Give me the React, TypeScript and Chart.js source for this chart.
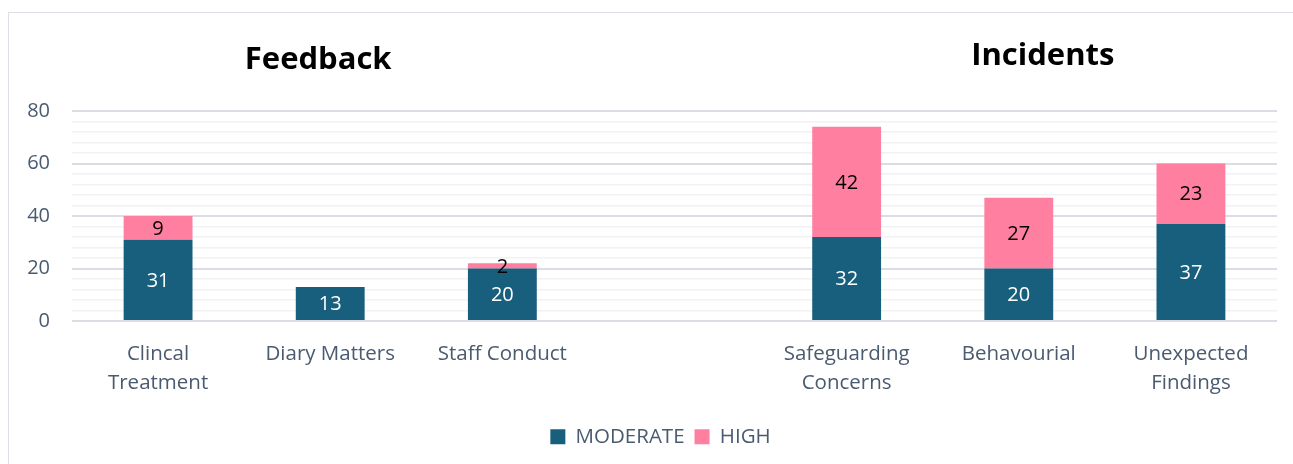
import React, { useEffect, useRef } from "react";
import { Chart, registerables } from "chart.js";

Chart.register(...registerables);

const categories: (string | string[])[] = [
  ["Clincal", "Treatment"],
  "Diary Matters",
  "Staff Conduct",
  "",
  ["Safeguarding", "Concerns"],
  "Behavourial",
  ["Unexpected", "Findings"],
];
const moderate: (number | null)[] = [31, 13, 20, null, 32, 20, 37];
const high: (number | null)[] = [9, null, 2, null, 42, 27, 23];
const sectionTitles = ["Feedback", "Incidents"];
const yTicks = [0, 20, 40, 60, 80];

const FONT = "'Open Sans', 'Noto Sans', sans-serif";
const TICK_COLOR = "#4A5A70";

const overlayPlugin = {
  id: "overlay",
  afterLayout(chart: any) {
    const lg = chart.legend;
    if (lg) {
      lg.left += 18;
      lg.right += 18;
    }
  },
  afterDatasetsDraw(chart: any) {
    const ctx = chart.ctx;
    ctx.save();
    ctx.textAlign = "center";
    ctx.textBaseline = "middle";
    ctx.font = `20px ${FONT}`;
    chart.data.datasets.forEach((ds: any, di: number) => {
      const meta = chart.getDatasetMeta(di);
      meta.data.forEach((bar: any, i: number) => {
        const v = ds.data[i];
        if (v == null) return;
        const p = bar.getProps(["x", "y", "base"], true);
        ctx.fillStyle = di === 0 ? "#FFFFFF" : "#000000";
        ctx.fillText(String(v), p.x, (p.y + p.base) / 2 + 1);
      });
    });
    // section titles
    const xs = chart.scales.x;
    ctx.fillStyle = "#000000";
    ctx.font = `bold 31px ${FONT}`;
    ctx.fillText(sectionTitles[0], xs.getPixelForValue(1) - 12, 60);
    ctx.fillText(sectionTitles[1], xs.getPixelForValue(5) + 24, 56);
    ctx.restore();
  },
};

export default function App() {
  const ref = useRef<HTMLCanvasElement>(null);
  useEffect(() => {
    if (!ref.current) return;
    const chart = new Chart(ref.current, {
      type: "bar",
      data: {
        labels: categories,
        datasets: [
          {
            label: "MODERATE",
            data: moderate,
            backgroundColor: "#175F7D",
            categoryPercentage: 1,
            barPercentage: 0.4,
          },
          {
            label: "HIGH",
            data: high,
            backgroundColor: "#FF7FA0",
            categoryPercentage: 1,
            barPercentage: 0.4,
          },
        ],
      },
      options: {
        animation: false,
        responsive: false,
        maintainAspectRatio: false,
        layout: { padding: { top: 111, left: 8, right: 16, bottom: 7 } },
        plugins: {
          legend: {
            position: "bottom",
            labels: {
              font: { family: FONT, size: 20.5 },
              color: TICK_COLOR,
              boxWidth: 15,
              boxHeight: 15,
              padding: 10,
            },
          },
          tooltip: { enabled: false },
          title: { display: false },
        },
        scales: {
          x: {
            stacked: true,
            grid: { display: false, drawTicks: false },
            border: { display: false },
            ticks: {
              font: { family: FONT, size: 20.5, lineHeight: 1.4 },
              color: TICK_COLOR,
              padding: 19,
              maxRotation: 0,
              autoSkip: false,
            },
          },
          y: {
            stacked: true,
            min: 0,
            max: 80,
            afterFit: (axis: any) => {
              axis.width = 64;
            },
            afterBuildTicks: (axis: any) => {
              const t = [];
              for (let v = 0; v <= 80; v += 4) t.push({ value: v });
              axis.ticks = t;
            },
            grid: {
              drawTicks: false,
              color: (c: any) =>
                yTicks.includes(c.tick.value) ? "#DADEE4" : "#F1F2F4",
              lineWidth: (c: any) => (yTicks.includes(c.tick.value) ? 2 : 1.5),
            },
            border: { display: false },
            ticks: {
              autoSkip: false,
              font: { family: FONT, size: 20 },
              color: TICK_COLOR,
              padding: 22,
              callback: (v: any) => (yTicks.includes(Number(v)) ? String(v) : ""),
            },
          },
        },
      },
      plugins: [overlayPlugin],
    });
    return () => chart.destroy();
  }, []);
  return (
    <div
      style={{
        position: "fixed",
        left: 0,
        top: 0,
        width: 1293,
        height: 464,
        background: "#FFFFFF",
        overflow: "hidden",
      }}
    >
      <div
        style={{
          position: "absolute",
          left: 8,
          top: 12,
          width: 1300,
          height: 470,
          border: "1.5px solid #DCE0E6",
          boxSizing: "border-box",
        }}
      />
      <canvas
        ref={ref}
        width={1293}
        height={464}
        style={{ position: "absolute", left: 0, top: 0, width: 1293, height: 464 }}
      />
    </div>
  );
}
